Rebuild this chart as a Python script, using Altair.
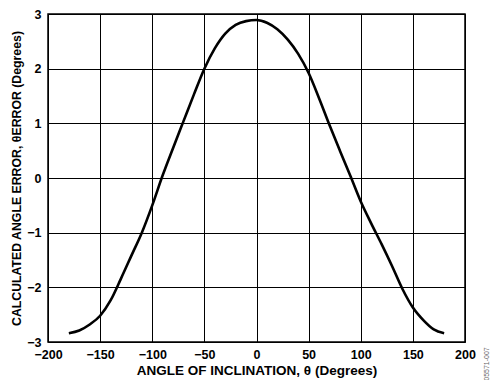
import altair as alt
import pandas as pd

# Angle of inclination (degrees) and calculated angle error (degrees)
theta = [-180, -170, -160, -150, -140, -130, -120, -110, -100, -90, -80, -70, -60, -50,
         -40, -30, -20, -10, 0, 10, 20, 30, 40, 50, 60, 70, 80, 90, 100, 110, 120, 130,
         140, 150, 160, 170, 180]
err = [-2.84, -2.79, -2.68, -2.52, -2.24, -1.84, -1.42, -1.00, -0.50, 0.05, 0.55, 1.04,
       1.53, 2.00, 2.37, 2.64, 2.80, 2.87, 2.89, 2.84, 2.72, 2.53, 2.27, 1.92, 1.46, 0.97,
       0.50, 0.04, -0.43, -0.83, -1.21, -1.61, -2.03, -2.37, -2.60, -2.77, -2.84]

x_ticks = [-200, -150, -100, -50, 0, 50, 100, 150, 200]
y_ticks = [-3, -2, -1, 0, 1, 2, 3]

df = pd.DataFrame({"theta": theta, "err": err})

font = "Liberation Sans"

line = alt.Chart(df).mark_line(color="black", strokeWidth=2.6, interpolate="monotone").encode(
    x=alt.X("theta:Q",
            scale=alt.Scale(domain=[-200, 200], nice=False, zero=False),
            axis=alt.Axis(values=x_ticks, title="ANGLE OF INCLINATION, θ (Degrees)",
                          labelPadding=6, titlePadding=3, titleFontSize=13.5)),
    y=alt.Y("err:Q",
            scale=alt.Scale(domain=[-3, 3], nice=False, zero=False),
            axis=alt.Axis(values=y_ticks, title="CALCULATED ANGLE ERROR, θERROR (Degrees)",
                          labelPadding=7, titlePadding=3, titleFontSize=12.3)),
)

note = alt.Chart(pd.DataFrame({"t": ["05571-007"]})).mark_text(
    angle=270, fontSize=7, color="#666666", font=font, align="center", baseline="middle"
).encode(text="t:N", x=alt.value(439), y=alt.value(350))

chart = alt.layer(line, note).properties(
    width=417, height=328,
    padding={"left": 40, "top": 6, "right": 27, "bottom": 38},
    autosize=alt.AutoSizeParams(type="none"),
    background="white",
).configure_view(
    stroke="black", strokeWidth=1.5
).configure_axis(
    grid=True, gridColor="black", gridWidth=1, gridOpacity=1,
    domain=False, ticks=False, labelFlush=False,
    labelFont=font, labelFontSize=12.5, labelFontWeight="bold", labelColor="black",
    titleFont=font, titleFontWeight="bold", titleColor="black",
)

chart.save("out.html", embed_options={"renderer": "svg", "actions": False})
